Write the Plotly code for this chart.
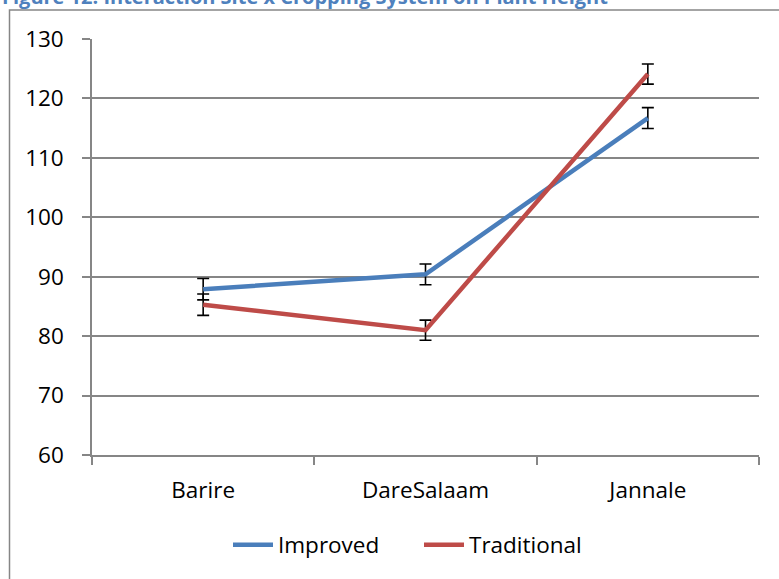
import plotly.graph_objects as go

sites = ["Barire", "DareSalaam", "Jannale"]
improved = [87.9, 90.4, 116.7]
improved_err = [1.8, 1.75, 1.75]
traditional = [85.3, 81.0, 124.1]
traditional_err = [1.8, 1.7, 1.7]
y_ticks = [60, 70, 80, 90, 100, 110, 120, 130]

title_text = "Figure 12: Interaction Site x Cropping System on Plant Height"

FONT = "Open Sans"
GRID = "#868686"
FS = 22.5

fig = go.Figure()
fig.add_trace(go.Scatter(
    x=sites, y=improved, name="Improved", mode="lines",
    line=dict(color="#4A7EBB", width=4.5),
    error_y=dict(type="data", array=improved_err, color="black", thickness=1.6, width=6),
))
fig.add_trace(go.Scatter(
    x=sites, y=traditional, name="Traditional", mode="lines",
    line=dict(color="#BE4B48", width=4.5),
    error_y=dict(type="data", array=traditional_err, color="black", thickness=1.6, width=6),
))

W, H = 779, 579
L, R, T, B = 92, 20, 39, 124
pw = W - L - R
ph = H - T - B

def px_x(p):
    return (p - L) / pw

def px_y(p):
    return 1 + (T - p) / ph

fig.update_layout(
    width=W, height=H,
    margin=dict(l=L, r=R, t=T, b=B, pad=0, autoexpand=False),
    paper_bgcolor="white", plot_bgcolor="white",
    font=dict(family=FONT, size=FS, color="black"),
    showlegend=True,
    legend=dict(
        orientation="h", x=px_x(228), xanchor="left",
        y=px_y(545), yanchor="middle",
        font=dict(family=FONT, size=FS, color="black"),
        bgcolor="rgba(0,0,0,0)", itemwidth=40,
        entrywidth=136, entrywidthmode="pixels",
    ),
    xaxis=dict(
        type="category", range=[-0.5, 2.5], automargin=False,
        showgrid=False, showline=True, linecolor=GRID, linewidth=1.5,
        ticks="outside", ticklen=8, tickcolor=GRID, tickwidth=1.5, tickson="boundaries",
        ticklabelstandoff=14,
        tickfont=dict(family=FONT, size=FS, color="black"), fixedrange=True,
    ),
    yaxis=dict(
        range=[60, 130], tickvals=y_ticks, automargin=False,
        showgrid=True, gridcolor=GRID, gridwidth=1.5,
        showline=True, linecolor=GRID, linewidth=1.5, zeroline=False,
        ticks="outside", ticklen=8, tickcolor=GRID, tickwidth=1.5,
        ticklabelstandoff=14,
        tickfont=dict(family=FONT, size=FS, color="black"), fixedrange=True,
    ),
    shapes=[dict(
        type="rect", xref="paper", yref="paper",
        x0=px_x(9.5), x1=px_x(W + 20), y0=px_y(H + 20), y1=px_y(10),
        line=dict(color=GRID, width=1.5), fillcolor="rgba(0,0,0,0)", layer="below",
    )],
    annotations=[dict(
        text="<b>" + title_text + "</b>", xref="paper", yref="paper",
        x=px_x(0), xanchor="left", y=px_y(-4), yanchor="middle",
        showarrow=False, font=dict(family=FONT, size=20, color="#4F81BD"),
    )],
)

fig.write_html(
    "out.html",
    config={"displayModeBar": False},
    post_script="document.body.style.margin='0';document.body.style.overflow='hidden';",
)
